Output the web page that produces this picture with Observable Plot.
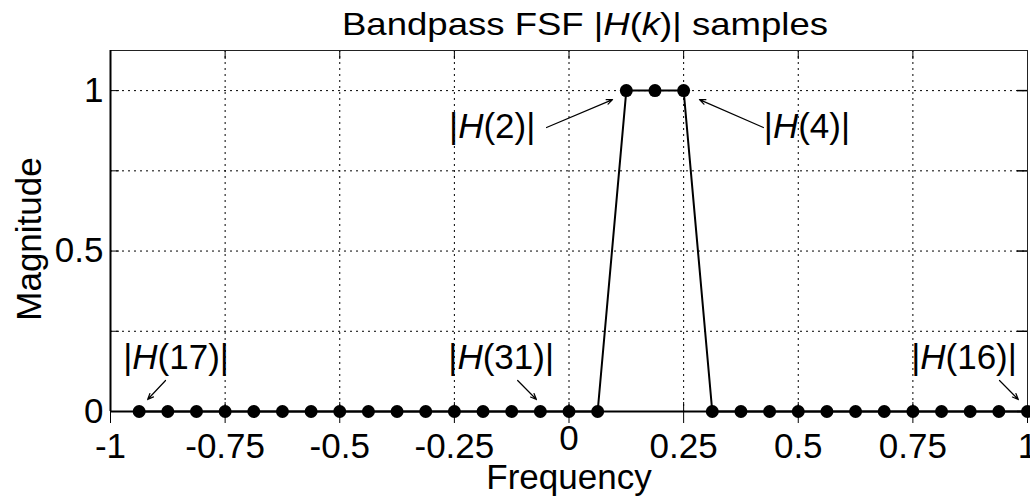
<!DOCTYPE html>
<html><head><meta charset="utf-8">
<script src="https://cdn.jsdelivr.net/npm/d3@7"></script>
<script src="https://cdn.jsdelivr.net/npm/@observablehq/plot@0.6"></script>
<style>body{margin:0;background:#fff}</style>
</head><body><div id="chart"></div>
<script>
// Sample frequencies (normalized) and magnitudes |H(k)|
const freq = [-0.9375, -0.875, -0.8125, -0.75, -0.6875, -0.625, -0.5625, -0.5,
              -0.4375, -0.375, -0.3125, -0.25, -0.1875, -0.125, -0.0625, 0,
               0.0625, 0.125, 0.1875, 0.25, 0.3125, 0.375, 0.4375, 0.5,
               0.5625, 0.625, 0.6875, 0.75, 0.8125, 0.875, 0.9375, 1];
const magnitude = [0, 0, 0, 0, 0, 0, 0, 0,
                   0, 0, 0, 0, 0, 0, 0, 0,
                   0, 1, 1, 1, 0, 0, 0, 0,
                   0, 0, 0, 0, 0, 0, 0, 0];
const xTicks = [-1, -0.75, -0.5, -0.25, 0, 0.25, 0.5, 0.75, 1];
const yGridValues = [0, 0.25, 0.5, 0.75, 1];
const yTickLabels = [0, 0.5, 1];
const titleText = "Bandpass FSF |*H*(*k*)| samples";
const xLabel = "Frequency";
const yLabel = "Magnitude";
// annotations
const annLabels = ["|*H*(2)|", "|*H*(4)|", "|*H*(17)|", "|*H*(31)|", "|*H*(16)|"];
const annX = [-0.1675, 0.519, -0.857, -0.148, 0.8615];
const annY = [0.888, 0.888, 0.168, 0.168, 0.168];
const arrowX1 = [-0.049, 0.424, -0.88, -0.112, 0.939];
const arrowY1 = [0.885, 0.885, 0.0966, 0.0966, 0.0966];
const arrowX2 = [0.095, 0.2846, -0.919, -0.071, 0.980];
const arrowY2 = [0.972, 0.972, 0.0374, 0.0374, 0.0374];

const samples = freq.map((f, i) => ({f, m: magnitude[i]}));
const anns = annLabels.map((t, i) => ({t, x: annX[i], y: annY[i], x1: arrowX1[i], y1: arrowY1[i], x2: arrowX2[i], y2: arrowY2[i]}));

const W = 1030, H = 497, mt = 50, mr = 3, mb = 86, ml = 110;
const innerH = H - mt - mb;
const innerW = W - ml - mr;
const FONT = "'Liberation Sans', Arial, Helvetica, sans-serif";
const fmt = d => String(d);

const svg = Plot.plot({
  width: W, height: H,
  marginTop: mt, marginRight: mr, marginBottom: mb, marginLeft: ml,
  style: {fontFamily: FONT, fontSize: "35px", background: "#fff", color: "#000", overflow: "visible"},
  x: {domain: [-1, 1], axis: null},
  y: {domain: [0, 1.125], axis: null},
  marks: [
    // dotted grid
    Plot.ruleX(xTicks, {x: d => d, stroke: "#000", strokeWidth: 1, strokeDasharray: "2,4"}),
    Plot.ruleY(yGridValues, {y: d => d, stroke: "#000", strokeWidth: 1, strokeDasharray: "2,4"}),
    // inward ticks
    Plot.ruleX(xTicks, {x: d => d, insetTop: innerH - 9, stroke: "#000", strokeWidth: 1}),
    Plot.ruleX(xTicks, {x: d => d, insetBottom: innerH - 9, stroke: "#000", strokeWidth: 1}),
    Plot.ruleY(yGridValues, {y: d => d, insetRight: innerW - 9, stroke: "#000", strokeWidth: 1}),
    Plot.ruleY(yGridValues, {y: d => d, insetLeft: innerW - 10, stroke: "#000", strokeWidth: 1.5}),
    // outward ticks below the x axis
    Plot.ruleX(xTicks, {x: d => d, insetTop: innerH, insetBottom: -12, stroke: "#000", strokeWidth: 1}),
    Plot.frame({stroke: "#222", strokeWidth: 1}),
    Plot.ruleX([-1], {x: d => d, stroke: "#000", strokeWidth: 2}),
    Plot.ruleY([0], {y: d => d, stroke: "#000", strokeWidth: 2}),
    // data
    Plot.line(samples, {x: "f", y: "m", stroke: "#000", strokeWidth: 2}),
    Plot.dot(samples, {x: "f", y: "m", r: 6.5, fill: "#000", stroke: "none"}),
    // annotations
    Plot.arrow(anns, {x1: "x1", y1: "y1", x2: "x2", y2: "y2", stroke: "#000", strokeWidth: 1.2, headLength: 8, headAngle: 45}),
    Plot.text(anns, {x: "x", y: "y", text: "t", fontSize: 35, fill: "#000", lineAnchor: "middle"}),
    // tick labels
    Plot.text(xTicks.filter(d => d !== 0), {x: d => d, text: fmt, frameAnchor: "bottom", lineAnchor: "middle", textAnchor: "middle", dy: 35, fontSize: 35, fill: "#000"}),
    Plot.text(xTicks.filter(d => d === 0), {x: d => d, text: fmt, frameAnchor: "bottom", lineAnchor: "middle", textAnchor: "middle", dy: 27, fontSize: 35, fill: "#000"}),
    Plot.text(yTickLabels, {y: d => d, text: fmt, frameAnchor: "left", lineAnchor: "middle", textAnchor: "end", dx: -7, fontSize: 35, fill: "#000"}),
    // axis labels and title
    Plot.text([xLabel], {frameAnchor: "bottom", text: d => d, lineAnchor: "middle", textAnchor: "middle", dy: 66, fontSize: 35, fill: "#000"}),
    Plot.text([yLabel], {frameAnchor: "left", text: d => d, lineAnchor: "middle", textAnchor: "middle", dx: -81, dy: 8, rotate: -90, fontSize: 35, fill: "#000"}),
    Plot.text([titleText], {frameAnchor: "top", text: d => d, lineAnchor: "middle", textAnchor: "middle", dx: 16, dy: -26, fontSize: 32, fill: "#000", className: "chart-title"})
  ]
});

// italic parts marked with *...*
d3.select(svg).selectAll("text").each(function() {
  const t = this.textContent;
  if (!t.includes("*") || this.querySelector("tspan")) return;
  const parts = t.split(/(\*[^*]+\*)/).filter(s => s);
  this.textContent = "";
  for (const p of parts) {
    const ts = document.createElementNS("http://www.w3.org/2000/svg", "tspan");
    if (p.startsWith("*")) { ts.setAttribute("font-style", "italic"); ts.textContent = p.slice(1, -1); }
    else ts.textContent = p;
    this.appendChild(ts);
  }
});
// the reference title is set slightly wider than the font's natural width
d3.select(svg).selectAll(".chart-title text").attr("textLength", 486).attr("lengthAdjust", "spacingAndGlyphs");

document.getElementById("chart").appendChild(svg);
</script>
</body></html>
